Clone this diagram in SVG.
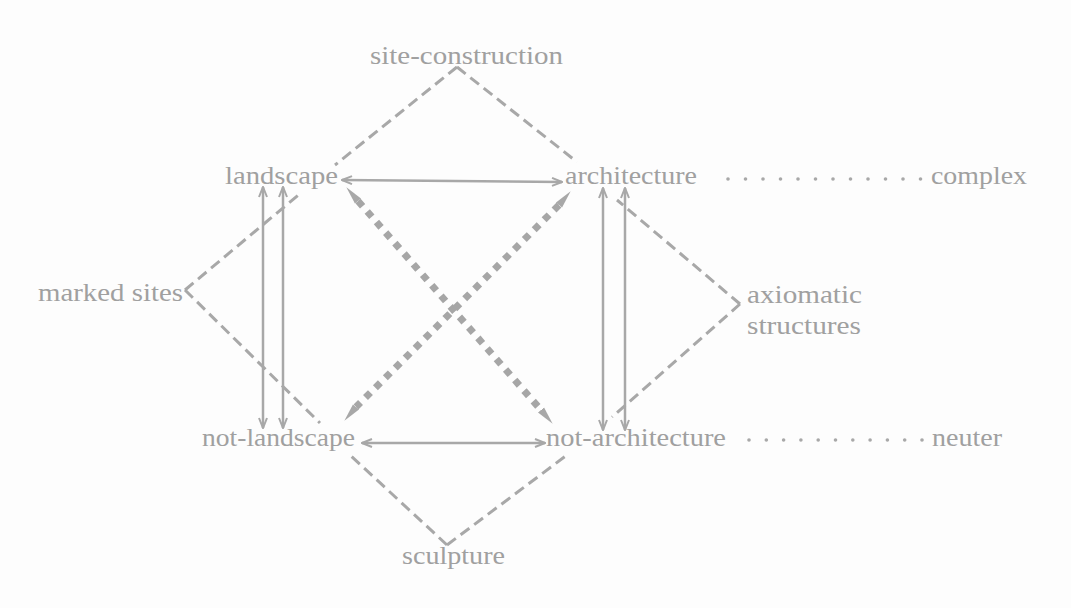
<svg xmlns="http://www.w3.org/2000/svg" width="1071" height="608" viewBox="0 0 1071 608">
<defs>
<style>
.t{font-family:"Liberation Serif","DejaVu Serif",serif;font-size:26px;fill:#a0a0a0}
.dash{stroke:#a8a8a8;stroke-width:3;stroke-dasharray:11 6;fill:none}
.solid{stroke:#a8a8a8;stroke-width:2.5;fill:none;marker-start:url(#ch);marker-end:url(#ch)}
.dot{stroke:#a6a6a6;stroke-width:7;stroke-dasharray:7 7;fill:none}
.dd{fill:#a8a8a8}
</style>
<marker id="ch" viewBox="0 0 12 10" refX="11" refY="5" markerWidth="12" markerHeight="10" markerUnits="userSpaceOnUse" orient="auto-start-reverse">
<path d="M1,1 L11,5 L1,9" fill="none" stroke="#a8a8a8" stroke-width="2"/>
</marker>
<marker id="tri" viewBox="0 0 18 10" refX="17" refY="5" markerWidth="18" markerHeight="10" markerUnits="userSpaceOnUse" orient="auto-start-reverse">
<path d="M0,1 L18,5 L0,9 Z" fill="#a8a8a8"/>
</marker>
</defs>
<rect width="1071" height="608" fill="#fdfdfd"/>
<g id="connectors">
<line class="dash" x1="457" y1="67" x2="335" y2="165"/>
<line class="dash" x1="457" y1="67" x2="577" y2="162"/>
<line class="dash" x1="185" y1="290" x2="302" y2="192"/>
<line class="dash" x1="185" y1="290" x2="320" y2="423"/>
<line class="dash" x1="740" y1="304" x2="617" y2="200"/>
<line class="dash" x1="740" y1="304" x2="612" y2="417"/>
<line class="dash" x1="447" y1="545" x2="350" y2="455"/>
<line class="dash" x1="447" y1="545" x2="567" y2="455"/>
<line class="solid" x1="342" y1="180" x2="562" y2="182"/>
<line class="solid" x1="362" y1="443" x2="545" y2="443"/>
<line class="solid" x1="263" y1="187" x2="263" y2="428"/>
<line class="solid" x1="283" y1="187" x2="283" y2="428"/>
<line class="solid" x1="603" y1="188" x2="603" y2="430"/>
<line class="solid" x1="625" y1="188" x2="625" y2="430"/>
<line class="dot" x1="358" y1="201" x2="541" y2="410"/>
<line class="dot" x1="559" y1="205" x2="356" y2="407"/>
<line stroke="none" x1="358" y1="201" x2="347" y2="188" marker-end="url(#tri)"/>
<line stroke="none" x1="541" y1="410" x2="552" y2="423" marker-end="url(#tri)"/>
<line stroke="none" x1="559" y1="205" x2="570" y2="192" marker-end="url(#tri)"/>
<line stroke="none" x1="356" y1="407" x2="345" y2="420" marker-end="url(#tri)"/>
<g class="dd">
<circle cx="728" cy="179" r="1.8"/><circle cx="745.5" cy="179" r="1.8"/><circle cx="763" cy="179" r="1.8"/><circle cx="780.5" cy="179" r="1.8"/><circle cx="798" cy="179" r="1.8"/><circle cx="815.5" cy="179" r="1.8"/><circle cx="833" cy="179" r="1.8"/><circle cx="850.5" cy="179" r="1.8"/><circle cx="868" cy="179" r="1.8"/><circle cx="885.5" cy="179" r="1.8"/><circle cx="903" cy="179" r="1.8"/><circle cx="920.5" cy="179" r="1.8"/>
<circle cx="749" cy="440" r="1.8"/><circle cx="766.3" cy="440" r="1.8"/><circle cx="783.6" cy="440" r="1.8"/><circle cx="800.9" cy="440" r="1.8"/><circle cx="818.2" cy="440" r="1.8"/><circle cx="835.5" cy="440" r="1.8"/><circle cx="852.8" cy="440" r="1.8"/><circle cx="870.1" cy="440" r="1.8"/><circle cx="887.4" cy="440" r="1.8"/><circle cx="904.7" cy="440" r="1.8"/><circle cx="922" cy="440" r="1.8"/>
</g>
</g>
<g id="site-construction"><text class="t" x="370" y="64" textLength="193" lengthAdjust="spacingAndGlyphs">site-construction</text></g>
<g id="landscape"><text class="t" x="225" y="184" textLength="113" lengthAdjust="spacingAndGlyphs">landscape</text></g>
<g id="architecture"><text class="t" x="565" y="184" textLength="132" lengthAdjust="spacingAndGlyphs">architecture</text></g>
<g id="complex"><text class="t" x="931" y="184" textLength="96" lengthAdjust="spacingAndGlyphs">complex</text></g>
<g id="marked-sites"><text class="t" x="38" y="301" textLength="145" lengthAdjust="spacingAndGlyphs">marked sites</text></g>
<g id="axiomatic-structures"><text class="t" x="747" y="303" textLength="115" lengthAdjust="spacingAndGlyphs">axiomatic</text><text class="t" x="747" y="334" textLength="114" lengthAdjust="spacingAndGlyphs">structures</text></g>
<g id="not-landscape"><text class="t" x="202" y="446" textLength="153" lengthAdjust="spacingAndGlyphs">not-landscape</text></g>
<g id="not-architecture"><text class="t" x="546" y="446" textLength="180" lengthAdjust="spacingAndGlyphs">not-architecture</text></g>
<g id="neuter"><text class="t" x="932" y="446" textLength="70" lengthAdjust="spacingAndGlyphs">neuter</text></g>
<g id="sculpture"><text class="t" x="402" y="564" textLength="103" lengthAdjust="spacingAndGlyphs">sculpture</text></g>
</svg>
